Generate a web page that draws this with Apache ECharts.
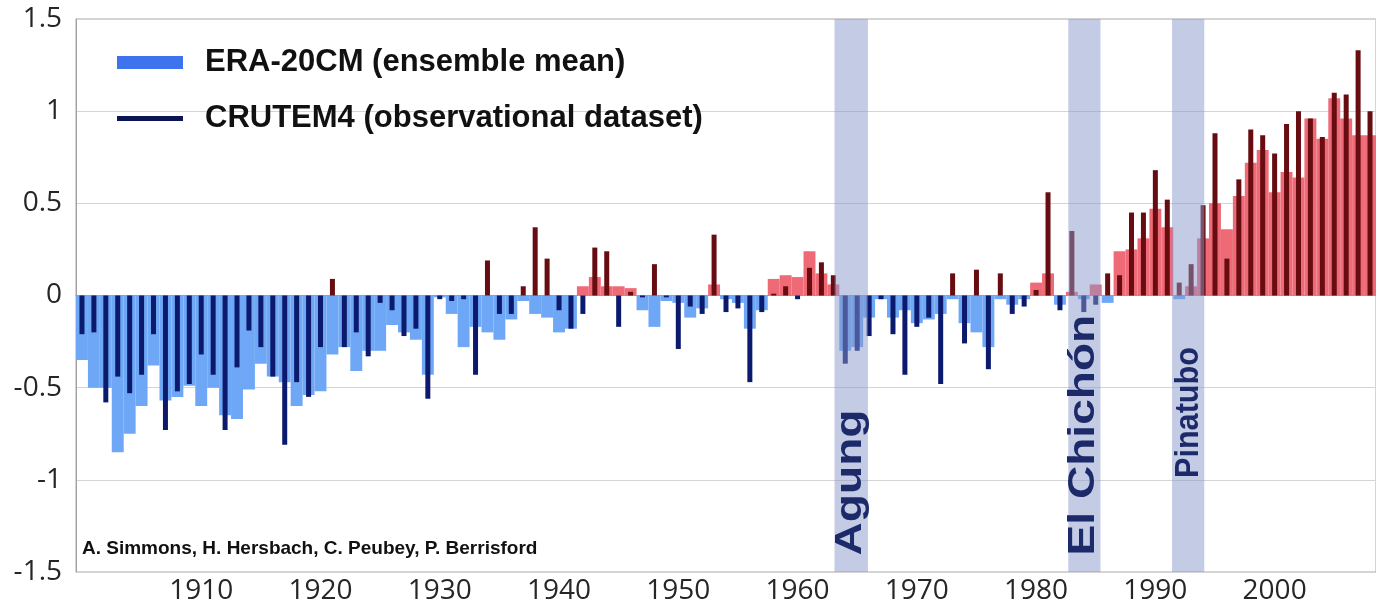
<!DOCTYPE html>
<html>
<head>
<meta charset="utf-8">
<script src="https://cdn.jsdelivr.net/npm/echarts@6/dist/echarts.min.js"></script>
<style>
html, body { margin: 0; padding: 0; background: #fff; }
#chart { width: 1376px; height: 608px; }
</style>
</head>
<body>
<div id="chart"></div>
<script>
// years shown, 1900 .. 2008 (the picture is cut just after 2008)
var years = [];
for (var y = 1900; y <= 2008; y++) years.push(String(y));

// ERA-20CM ensemble mean, land temperature anomaly (wide bars)
var era20cm = [
    -0.35, -0.50, -0.50, -0.85, -0.75, -0.60, -0.38, -0.57, -0.55, -0.49,
    -0.60, -0.50, -0.65, -0.67, -0.51, -0.37, -0.44, -0.47, -0.60, -0.54,
    -0.52, -0.32, -0.28, -0.41, -0.30, -0.30, -0.16, -0.20, -0.24, -0.43,
    -0.01, -0.10, -0.28, -0.17, -0.20, -0.24, -0.13, -0.03, -0.10, -0.12,
    -0.20, -0.18, 0.05, 0.10, 0.05, 0.05, 0.04, -0.08, -0.17, -0.03,
    -0.04, -0.12, -0.07, 0.06, -0.02, -0.04, -0.18, -0.08, 0.09, 0.11,
    0.10, 0.24, 0.12, 0.06, -0.30, -0.28, -0.12, -0.02, -0.12, -0.08,
    -0.15, -0.13, -0.10, -0.02, -0.15, -0.20, -0.28, -0.02, -0.05, -0.02,
    0.07, 0.12, -0.05, 0.02, -0.02, 0.06, -0.04, 0.24, 0.25, 0.31,
    0.47, 0.37, -0.02, 0.05, 0.31, 0.50, 0.36, 0.54, 0.72, 0.79,
    0.56, 0.67, 0.64, 0.96, 0.85, 1.07, 0.96, 0.87, 0.87
];

// CRUTEM4 observations (narrow bars)
var crutem4 = [
    -0.21, -0.20, -0.58, -0.44, -0.53, -0.43, -0.21, -0.73, -0.52, -0.48,
    -0.32, -0.43, -0.73, -0.39, -0.19, -0.28, -0.44, -0.81, -0.47, -0.55,
    -0.28, 0.09, -0.28, -0.20, -0.33, -0.04, -0.08, -0.22, -0.18, -0.56,
    -0.02, -0.03, -0.02, -0.43, 0.19, -0.10, -0.10, 0.05, 0.37, 0.20,
    -0.08, -0.18, -0.10, 0.26, 0.24, -0.17, 0.02, -0.01, 0.17, -0.01,
    -0.29, -0.06, -0.10, 0.33, -0.09, -0.07, -0.47, -0.09, 0.01, 0.05,
    -0.02, 0.15, 0.18, 0.11, -0.37, -0.30, -0.22, -0.02, -0.21, -0.43,
    -0.17, -0.12, -0.48, 0.12, -0.26, 0.14, -0.40, 0.12, -0.10, -0.06,
    0.03, 0.56, -0.08, 0.35, -0.09, -0.05, 0.12, 0.11, 0.45, 0.45,
    0.68, 0.52, 0.07, 0.17, 0.49, 0.88, 0.20, 0.63, 0.90, 0.87,
    0.77, 0.93, 1.00, 0.96, 0.86, 1.10, 1.09, 1.33, 1.00
];

// volcanic periods: start year, end year, where the label starts (anomaly units)
var volcanoNames = ['Agung', 'El Chichón', 'Pinatubo'];
var volcanoStart = [1963.1, 1982.7, 1991.4];
var volcanoEnd = [1965.9, 1985.4, 1994.1];
var volcanoLabelAt = [-1.41, -1.41, -0.99];
var volcanoFontSize = [36, 36, 34];
var volcanoStretch = [1.28, 1.28, 0.9];

var yTicks = { min: -1.5, max: 1.5, step: 0.5 };

var lightBlue = '#6ea7f6', lightRed = '#ee6a76';
var darkBlue = '#0c1a6e', darkRed = '#670c10';

var volcanoData = volcanoNames.map(function (n, i) {
    return [volcanoStart[i], volcanoEnd[i], volcanoLabelAt[i]];
});

var chart = echarts.init(document.getElementById('chart'));

var labelFont = { fontFamily: '"Open Sans", "Liberation Sans", sans-serif', fontSize: 28, fontWeight: 'normal', color: '#262626' };
var legendFont = { fontFamily: 'Liberation Sans', fontSize: 31, fontWeight: 'bold', color: '#111', padding: [0, 0, 0, 17] };

var option = {
    animation: false,
    backgroundColor: '#fff',
    title: {
        text: 'A. Simmons, H. Hersbach, C. Peubey, P. Berrisford',
        left: 77,
        top: 534,
        textStyle: { fontFamily: 'Liberation Sans', fontSize: 19, fontWeight: 'bold', color: '#111' }
    },
    legend: [
        {
            data: [{ name: 'ERA-20CM (ensemble mean)', itemStyle: { color: '#3e73ee' } }],
            left: 112, top: 42,
            icon: 'rect', itemWidth: 66, itemHeight: 13,
            selectedMode: false,
            textStyle: legendFont
        },
        {
            data: [{ name: 'CRUTEM4 (observational dataset)', itemStyle: { color: '#0b1552' } }],
            left: 112, top: 98,
            icon: 'rect', itemWidth: 66, itemHeight: 5,
            selectedMode: false,
            textStyle: legendFont
        }
    ],
    grid: { left: 76, right: -5, top: 19, bottom: 36, show: true, borderColor: '#a8a8a8', borderWidth: 1 },
    xAxis: [
        {
            type: 'category', data: years,
            axisLine: { lineStyle: { color: '#a0a0a0' } },
            axisTick: { show: false },
            axisLabel: Object.assign({
                margin: 5,
                interval: function (i, v) { return +v % 10 === 0 && +v > 1900; }
            }, labelFont)
        },
        { type: 'category', data: years, show: false },
        { type: 'value', min: 1899.5, max: 2008.5, show: false }
    ],
    yAxis: {
        type: 'value', min: yTicks.min, max: yTicks.max, interval: yTicks.step,
        axisLine: { show: true, lineStyle: { color: '#a0a0a0' } },
        axisTick: { show: false },
        splitLine: { lineStyle: { color: '#d4d4d4' } },
        axisLabel: Object.assign({ margin: 14 }, labelFont)
    },
    series: [
        {
            name: 'ERA-20CM (ensemble mean)',
            type: 'bar', xAxisIndex: 0,
            barCategoryGap: '0%',
            data: era20cm,
            itemStyle: { color: function (p) { return p.value >= 0 ? lightRed : lightBlue; } },
            z: 2
        },
        {
            name: 'CRUTEM4 (observational dataset)',
            type: 'bar', xAxisIndex: 1,
            barWidth: 5,
            data: crutem4,
            itemStyle: { color: function (p) { return p.value >= 0 ? darkRed : darkBlue; } },
            z: 3
        },
        {
            type: 'custom', xAxisIndex: 2, z: 5,
            data: volcanoData,
            silent: true,
            renderItem: function (params, api) {
                var i = params.dataIndex;
                var a = api.coord([api.value(0), yTicks.max]);
                var b = api.coord([api.value(1), yTicks.min]);
                var c = api.coord([(api.value(0) + api.value(1)) / 2, api.value(2)]);
                return {
                    type: 'group',
                    children: [
                        {
                            type: 'rect',
                            shape: { x: a[0], y: a[1], width: b[0] - a[0], height: b[1] - a[1] },
                            style: { fill: 'rgba(138,152,202,0.5)' }
                        },
                        {
                            type: 'text',
                            x: c[0], y: c[1],
                            rotation: Math.PI / 2,
                            scaleX: volcanoStretch[i],
                            style: {
                                text: volcanoNames[i],
                                fill: '#1d2a6a',
                                font: 'bold ' + volcanoFontSize[i] + 'px "Liberation Sans", Arial, sans-serif',
                                textAlign: 'left',
                                textVerticalAlign: 'middle'
                            }
                        }
                    ]
                };
            }
        }
    ]
};

chart.setOption(option);
</script>
</body>
</html>
